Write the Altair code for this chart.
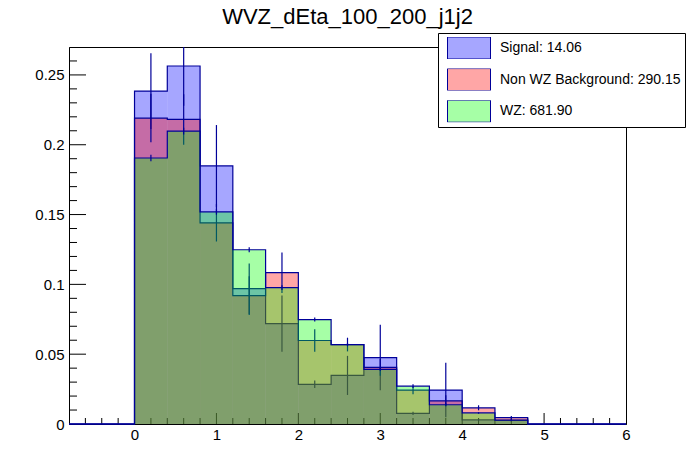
import altair as alt
import pandas as pd
import numpy as np

# ---------------- data ----------------
bin_low = [-0.8, -0.4, 0.0, 0.4, 0.8, 1.2, 1.6, 2.0, 2.4, 2.8, 3.2, 3.6, 4.0, 4.4, 4.8, 5.2, 5.6]
bin_width = 0.4
x_min, x_max = -0.8, 6.0
y_max = 0.27

signal     = [0, 0, 0.2384, 0.2564, 0.1848, 0.0969, 0.0719, 0.0284, 0.0348, 0.0476, 0.0076, 0.0243, 0.0029, 0.0026, 0, 0, 0]
signal_err = [0, 0, 0.0271, 0.0285, 0.0293, 0.0181, 0.0202, 0.0027, 0.0140, 0.0234, 0.0012, 0.0195, 0.0010, 0.0010, 0, 0, 0]
bkg        = [0, 0, 0.2191, 0.2181, 0.1441, 0.0919, 0.1084, 0.0598, 0.0569, 0.0405, 0.0243, 0.0166, 0.0116, 0.0045, 0, 0, 0]
bkg_err    = [0, 0, 0.0174, 0.0181, 0.0134, 0.0139, 0.0145, 0.0081, 0.0049, 0.0060, 0.0030, 0.0040, 0.0018, 0.0012, 0, 0, 0]
wz         = [0, 0, 0.1905, 0.2098, 0.1519, 0.1248, 0.0976, 0.0748, 0.0569, 0.0391, 0.0271, 0.0138, 0.0079, 0.0028, 0, 0, 0]
wz_err     = [0, 0, 0.0024, 0.0024, 0.0020, 0.0018, 0.0017, 0.0014, 0.0012, 0.0010, 0.0014, 0.0008, 0.0006, 0.0004, 0, 0, 0]

names  = ["Signal", "Non WZ Background", "WZ"]
totals = ["14.06", "290.15", "681.90"]
fills  = ["#0000ff", "#ff0000", "#00ff00"]
labels = [f"{n}: {t}" for n, t in zip(names, totals)]

x_label_values = [0, 1, 2, 3, 4, 5, 6]
y_label_values = [0, 0.05, 0.1, 0.15, 0.2, 0.25]

title_text = "WVZ_dEta_100_200_j1j2"

# ---------------- style ----------------
NAVY = "#000099"
FONT = "Liberation Sans"
W, H = 557, 377
LW = 1.2
ALPHA = 0.35


def blend_on_white(hex_color, a):
    r, g, b = (int(hex_color[i:i + 2], 16) for i in (1, 3, 5))
    mix = lambda c: round(255 * (1 - a) + c * a)
    return "#%02x%02x%02x" % (mix(r), mix(g), mix(b))


legend_fills = [blend_on_white(c, ALPHA) for c in fills]

xs = alt.Scale(domain=[x_min, x_max], nice=False, zero=False)
ys = alt.Scale(domain=[0, y_max], nice=False, zero=False)

xaxis = alt.Axis(values=x_label_values, title=None, tickSize=0, labelFontSize=15, labelFont=FONT,
                 labelColor="black", domainColor="black", grid=False, labelPadding=3,
                 format="~g", labelFlush=False, labelOverlap=False)
yaxis = alt.Axis(values=y_label_values, title=None, tickSize=0, labelFontSize=15, labelFont=FONT,
                 labelColor="black", domainColor="black", grid=False, labelPadding=5,
                 format=".2~f", labelFlush=False, labelOverlap=False)

legend = alt.Legend(title=None, orient="none", legendX=369, legendY=-14,
                    strokeColor="black", fillColor="white", padding=4,
                    symbolType="M-1,-0.512H1V0.512H-1Z", symbolSize=43 * 43, clipHeight=22,
                    symbolOffset=5, symbolStrokeColor=NAVY, symbolStrokeWidth=1,
                    labelFont=FONT, labelFontSize=14, labelColor="black", labelOffset=9,
                    labelLimit=400, rowPadding=9.6, symbolOpacity=1,
                    labelExpr="datum.label + '\u2003'")

# the fill scale lists the samples in reverse so its (hidden) legend is not merged with the shown one
fill_scale = alt.Scale(domain=labels[::-1], range=fills[::-1])
legend_scale = alt.Scale(domain=labels, range=legend_fills)


def bins_df(vals, errs, label):
    lo = np.array(bin_low)
    v = np.array(vals, dtype=float)
    e = np.array(errs, dtype=float)
    return pd.DataFrame({
        "lo": lo, "hi": lo + bin_width, "center": lo + bin_width / 2,
        "val": v, "base": 0.0, "elo": v - e, "ehi": v + e, "err": e, "sample": label,
    })


def step_df(vals):
    edges = list(bin_low) + [x_max]
    return pd.DataFrame({"edge": edges, "val": list(vals) + [vals[-1]]})


layers = []

# axis ticks (ROOT style, inside the frame), drawn under the histograms
x_ticks = np.round(np.arange(-0.6, 6.0, 0.2), 1)
x_major = pd.DataFrame({"t": [t for t in x_ticks if abs(t - round(t)) < 1e-6]})
x_minor = pd.DataFrame({"t": [t for t in x_ticks if abs(t - round(t)) >= 1e-6]})
y_ticks = np.round(np.arange(0.01, 0.27, 0.01), 2)
y_major = pd.DataFrame({"t": [t for t in y_ticks if abs(t / 0.05 - round(t / 0.05)) < 1e-6]})
y_minor = pd.DataFrame({"t": [t for t in y_ticks if abs(t / 0.05 - round(t / 0.05)) >= 1e-6]})

layers.append(alt.Chart(x_major).mark_rule(color="black", strokeWidth=1).encode(
    x=alt.X("t:Q", scale=xs, axis=xaxis), y=alt.value(H), y2=alt.value(H - 11)))
layers.append(alt.Chart(x_minor).mark_rule(color="black", strokeWidth=1).encode(
    x=alt.X("t:Q", scale=xs, axis=xaxis), y=alt.value(H), y2=alt.value(H - 6)))
layers.append(alt.Chart(y_major).mark_rule(color="black", strokeWidth=1).encode(
    y=alt.Y("t:Q", scale=ys, axis=yaxis), x=alt.value(0), x2=alt.value(17)))
layers.append(alt.Chart(y_minor).mark_rule(color="black", strokeWidth=1).encode(
    y=alt.Y("t:Q", scale=ys, axis=yaxis), x=alt.value(0), x2=alt.value(8)))

for vals, errs, label in [(signal, signal_err, labels[0]), (bkg, bkg_err, labels[1]), (wz, wz_err, labels[2])]:
    df = bins_df(vals, errs, label)
    filled = df[df["val"] > 0]
    layers.append(alt.Chart(filled).mark_rect(fillOpacity=ALPHA, strokeWidth=0).encode(
        x=alt.X("lo:Q", scale=xs, axis=xaxis), x2="hi:Q",
        y=alt.Y("val:Q", scale=ys, axis=yaxis), y2="base:Q",
        fill=alt.Fill("sample:N", scale=fill_scale, legend=None),
    ))
    layers.append(alt.Chart(step_df(vals)).mark_line(interpolate="step-after", color=NAVY, strokeWidth=LW).encode(
        x=alt.X("edge:Q", scale=xs, axis=xaxis),
        y=alt.Y("val:Q", scale=ys, axis=yaxis),
    ))
    errdf = df[df["err"] > 0]
    layers.append(alt.Chart(errdf).mark_rule(color=NAVY, strokeWidth=LW, clip=True).encode(
        x=alt.X("center:Q", scale=xs, axis=xaxis),
        y=alt.Y("elo:Q", scale=ys, axis=yaxis), y2="ehi:Q",
    ))

# legend carrier: zero-area rects whose colour scale shows the fills as they look over white
legend_df = pd.DataFrame({"sample": labels})
layers.append(alt.Chart(legend_df).mark_rect(strokeWidth=0).encode(
    x=alt.value(0), x2=alt.value(0), y=alt.value(0), y2=alt.value(0),
    color=alt.Color("sample:N", scale=legend_scale, legend=legend, sort=labels),
))

chart = alt.layer(*layers).properties(
    width=W, height=H,
    title=alt.Title(title_text, fontSize=22, font=FONT, fontWeight="normal", color="black",
                    anchor="middle", offset=7, dy=3),
    autosize=alt.AutoSizeParams(type="none"),
    padding={"left": 61, "top": 39, "right": 60, "bottom": 30},
    background="white",
).configure_view(stroke="black", strokeWidth=1)

chart.save("out.html", embed_options={"renderer": "svg", "actions": False})
